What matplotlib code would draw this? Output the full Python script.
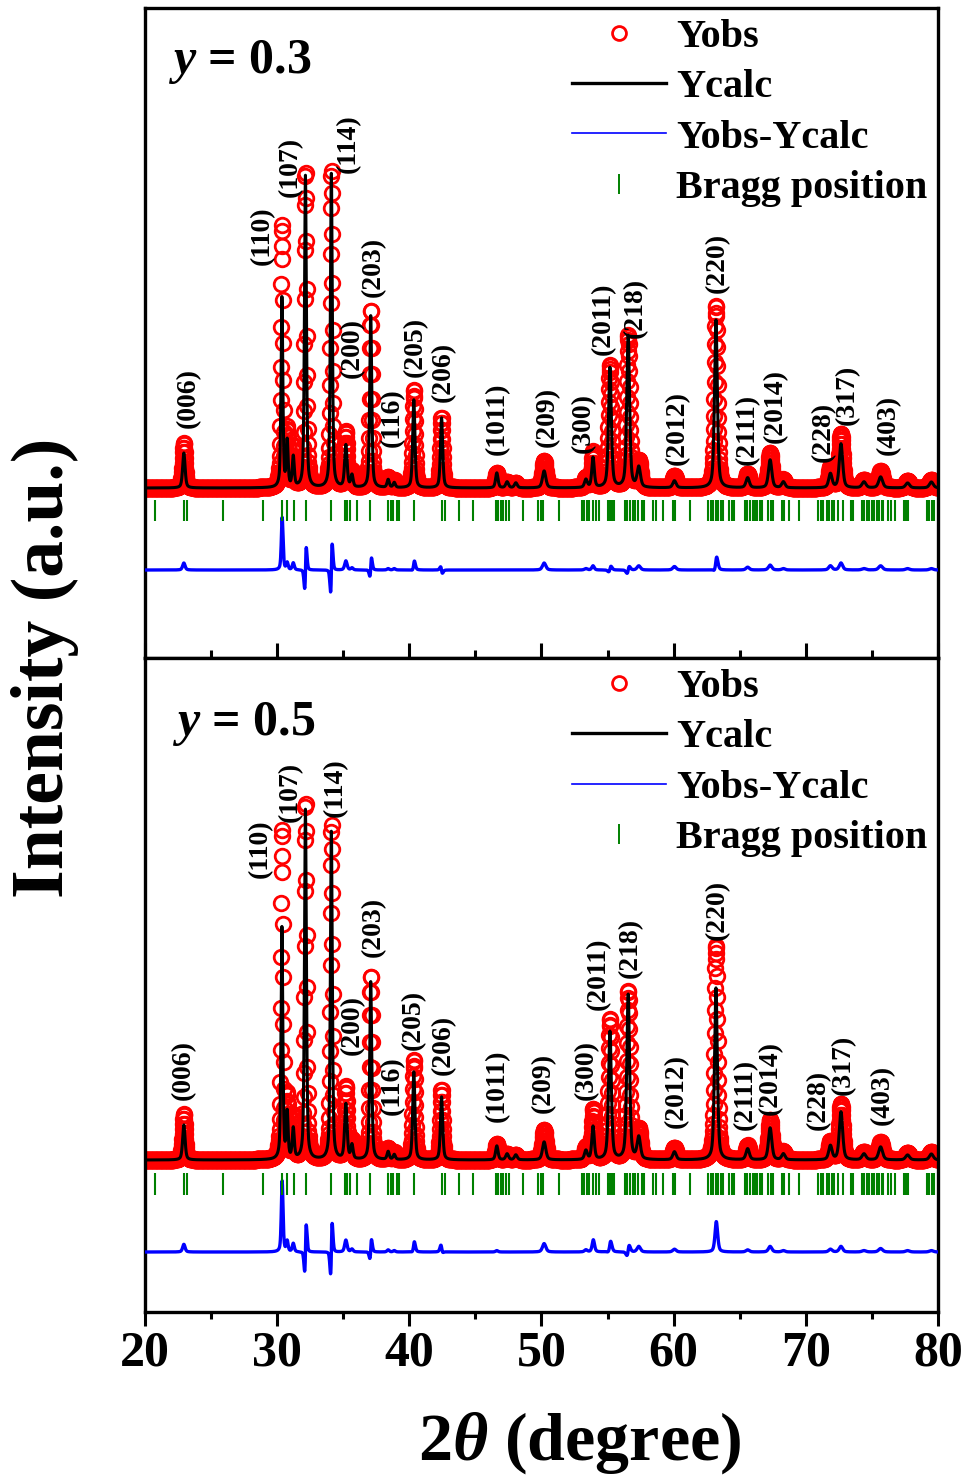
import numpy as np
import matplotlib
matplotlib.use("Agg")
import matplotlib.pyplot as plt
from matplotlib.lines import Line2D
from matplotlib.ticker import MultipleLocator

plt.rcParams["font.family"] = "Liberation Serif"
plt.rcParams["font.weight"] = "bold"
plt.rcParams["mathtext.fontset"] = "custom"
plt.rcParams["mathtext.it"] = "Liberation Serif:italic:bold"
plt.rcParams["mathtext.rm"] = "Liberation Serif:bold"

# 2theta scan, 0.02 deg step
two_theta = np.arange(20.0, 80.001, 0.02)

# reflections of the rhombohedral cell: centre (deg) and FWHM (deg)
peak_pos = [22.94, 30.36, 30.76, 31.22, 32.14, 34.10, 35.20, 35.66, 37.08, 38.40,
            38.86, 40.34, 42.44, 46.62, 47.40, 48.06, 50.20, 53.36, 53.90, 55.18,
            56.56, 57.36, 60.06, 63.20, 65.60, 67.30, 68.30, 71.86, 72.66, 74.40,
            75.66, 77.70, 79.50]
peak_fwhm = [0.22, 0.16, 0.16, 0.18, 0.17, 0.17, 0.22, 0.20, 0.18, 0.20,
             0.20, 0.20, 0.20, 0.22, 0.25, 0.25, 0.30, 0.25, 0.22, 0.25,
             0.25, 0.30, 0.30, 0.25, 0.30, 0.30, 0.30, 0.30, 0.30, 0.35,
             0.35, 0.35, 0.35]

# y = 0.3 : calculated / observed peak heights and observed peak shift
calc_03 = [35, 190, 45, 30, 312, 314, 42, 12, 172, 8,
           5, 88, 70, 15, 6, 5, 17, 8, 30, 120,
           152, 20, 7, 168, 10, 28, 6, 14, 44, 6,
           11, 5, 6]
obs_03 = [45, 262, 55, 40, 316, 318, 55, 15, 178, 10,
          7, 98, 70, 15, 6, 5, 27, 10, 36, 122,
          152, 26, 12, 182, 14, 35, 8, 20, 54, 8,
          17, 7, 8]
shift_03 = [0, 0.006, 0, 0, 0.012, 0.014, 0, 0, 0.01, 0,
            0, 0.008, -0.01, 0, 0, 0, 0, 0, 0, 0.006,
            0.006, 0, 0, 0.008, 0, 0, 0, 0, 0, 0,
            0, 0, 0]

# y = 0.5
calc_05 = [35, 232, 45, 30, 350, 328, 55, 14, 178, 8,
           5, 88, 63, 14, 6, 5, 18, 9, 33, 128,
           165, 22, 8, 172, 11, 32, 6, 14, 48, 6,
           13, 5, 6]
obs_05 = [46, 330, 60, 42, 358, 335, 72, 18, 184, 11,
          7, 100, 70, 16, 6, 5, 30, 12, 50, 140,
          168, 30, 12, 214, 14, 40, 8, 18, 56, 8,
          18, 7, 8]
shift_05 = [0, 0.006, 0, 0, 0.012, 0.014, 0, 0, 0.01, 0,
            0, 0.008, -0.01, 0, 0, 0, 0, 0, 0.008, 0.008,
            0.008, 0, 0, 0.006, 0, 0, 0, 0, 0, 0,
            0, 0, 0]

# Bragg reflection positions (deg)
bragg_pos = [20.76, 22.95, 23.15, 25.88, 28.95, 30.34, 30.72, 31.27, 32.16, 34.07,
             35.13, 35.31, 35.51, 36.01, 37.02, 38.41, 38.59, 38.79, 39.04, 39.19,
             40.32, 42.45, 42.70, 43.78, 44.79, 46.56, 46.73, 46.91, 47.11, 47.31,
             47.52, 48.62, 49.76, 49.94, 50.14, 51.32, 53.04, 53.22, 53.42, 53.62,
             53.87, 54.12, 54.37, 55.06, 55.18, 55.36, 55.48, 56.32, 56.49, 56.70,
             56.90, 57.07, 57.33, 57.58, 57.75, 58.46, 58.66, 59.17, 59.97, 60.10,
             61.23, 62.62, 62.80, 63.00, 63.17, 63.38, 63.56, 63.76, 64.21, 64.39,
             64.56, 65.40, 65.57, 65.77, 65.98, 66.15, 66.33, 66.53, 66.66, 67.16,
             67.34, 67.54, 68.17, 68.35, 68.75, 69.51, 70.94, 71.12, 71.32, 71.58,
             71.78, 71.95, 72.13, 72.46, 72.79, 73.39, 73.59, 74.22, 74.40, 74.60,
             74.80, 74.98, 75.16, 75.36, 75.53, 75.73, 75.86, 76.24, 76.42, 76.75,
             77.43, 77.58, 77.75, 79.14, 79.34, 79.52, 79.70]

# Miller index labels and their anchor (x deg, bottom of text in intensity units)
hkl = ["(006)", "(110)", "(107)", "(114)", "(200)", "(203)", "(116)", "(205)",
       "(206)", "(1011)", "(209)", "(300)", "(2011)", "(218)", "(2012)", "(220)",
       "(2111)", "(2014)", "(228)", "(317)", "(403)"]
hkl_x_03 = [23.25, 28.85, 30.97, 35.36, 35.66, 37.25, 38.69, 40.43, 42.55, 46.63,
            50.42, 53.14, 54.65, 57.07, 60.25, 63.28, 65.55, 67.67, 71.30, 73.11, 76.22]
hkl_y_03 = [60, 223, 291, 315, 110, 191, 41, 111, 86, 33,
            41, 35, 133, 150, 23, 195, 23, 45, 26, 63, 33]
hkl_x_05 = [22.88, 28.70, 30.97, 34.38, 35.66, 37.25, 38.69, 40.28, 42.55, 46.63,
            50.11, 53.37, 54.27, 56.70, 60.18, 63.28, 65.40, 67.29, 70.92, 72.81, 75.76]
hkl_y_05 = [60, 282, 338, 343, 105, 203, 45, 110, 85, 38,
            47, 60, 150, 182, 32, 220, 30, 45, 30, 65, 35]

DIFF_SCALE = 0.7


def pseudo_voigt(x, x0, h, w, eta=0.5):
    d = (x - x0) / w
    gauss = np.exp(-4 * np.log(2) * d ** 2)
    lorentz = 1.0 / (1.0 + 4 * d ** 2)
    return h * (eta * lorentz + (1 - eta) * gauss)


def profile(heights, shifts=None):
    y = np.zeros_like(two_theta)
    for i, (p, w, h) in enumerate(zip(peak_pos, peak_fwhm, heights)):
        s = 0 if shifts is None else shifts[i]
        y += pseudo_voigt(two_theta, p + s, h, w)
    return y


def draw_panel(ax, calc_h, obs_h, shift, lab_x, lab_y, tag, ylim,
               diff_off, bragg_lo, bragg_hi, tag_xy, bottom):
    ycalc = profile(calc_h)
    yobs = profile(obs_h, shift)
    diff = DIFF_SCALE * (yobs - ycalc) + diff_off

    ax.plot(two_theta, yobs, ls="none", marker="o", ms=10.5, mfc="none",
            mec="red", mew=2.0, zorder=2)
    ax.plot(two_theta, ycalc, color="black", lw=2.2, zorder=3)
    ax.plot(two_theta, diff, color="blue", lw=2.4, zorder=3)
    ax.vlines(bragg_pos, bragg_lo, bragg_hi, color="green", lw=1.5, zorder=3)

    for t, x, y in zip(hkl, lab_x, lab_y):
        ax.text(x, y, t, rotation=90, ha="center", va="bottom",
                fontsize=20, fontweight="bold")

    ax.text(tag_xy[0], tag_xy[1], tag, transform=ax.transAxes,
            fontsize=36, fontweight="bold", ha="left", va="baseline")

    handles = [
        Line2D([], [], ls="none", marker="o", ms=10, mfc="none", mec="red", mew=2.0),
        Line2D([], [], color="black", lw=2.4),
        Line2D([], [], color="blue", lw=1.2),
        Line2D([], [], ls="none", marker="|", ms=14, mew=1.4, color="green"),
    ]
    ax.legend(handles, ["Yobs", "Ycalc", "Yobs-Ycalc", "Bragg position"],
              loc="upper right", bbox_to_anchor=(0.987, 0.984), frameon=False,
              fontsize=29, handlelength=2.35, handletextpad=0.25,
              labelspacing=0.33, borderpad=0, borderaxespad=0)

    ax.set_xlim(20, 80)
    ax.set_ylim(*ylim)
    ax.set_yticks([])
    ax.xaxis.set_major_locator(MultipleLocator(10))
    ax.xaxis.set_minor_locator(MultipleLocator(5))
    for sp in ax.spines.values():
        sp.set_linewidth(2.4)
    if bottom:
        ax.tick_params(axis="x", which="major", direction="out", length=10,
                       width=2.2, labelsize=36, pad=3, top=False)
        ax.tick_params(axis="x", which="minor", direction="out", length=5,
                       width=2.2, top=False)
    else:
        ax.tick_params(axis="x", which="major", direction="in", length=11,
                       width=2.2, labelbottom=False, top=False)
        ax.tick_params(axis="x", which="minor", direction="in", length=6,
                       width=2.2, top=False)


fig = plt.figure(figsize=(9.66, 14.83), dpi=100)
ax_top = fig.add_axes([0.1501, 0.5563, 0.8209, 0.4383])
ax_bot = fig.add_axes([0.1501, 0.1153, 0.8209, 0.4410])

draw_panel(ax_top, calc_03, obs_03, shift_03, hkl_x_03, hkl_y_03,
           "$y$ = 0.3", (-170, 480), -82, -33, -12, (0.029, 0.90), False)
draw_panel(ax_bot, calc_05, obs_05, shift_05, hkl_x_05, hkl_y_05,
           "$y$ = 0.5", (-152, 502), -92, -35, -13, (0.034, 0.882), True)

fig.text(0.047, 0.5496, "Intensity (a.u.)", rotation=90, fontsize=53,
         fontweight="bold", ha="center", va="center")
fig.text(0.600, 0.027, r"2$\theta$ (degree)", fontsize=49, fontweight="bold",
         ha="center", va="center")

fig.savefig("out.png", dpi=100)
